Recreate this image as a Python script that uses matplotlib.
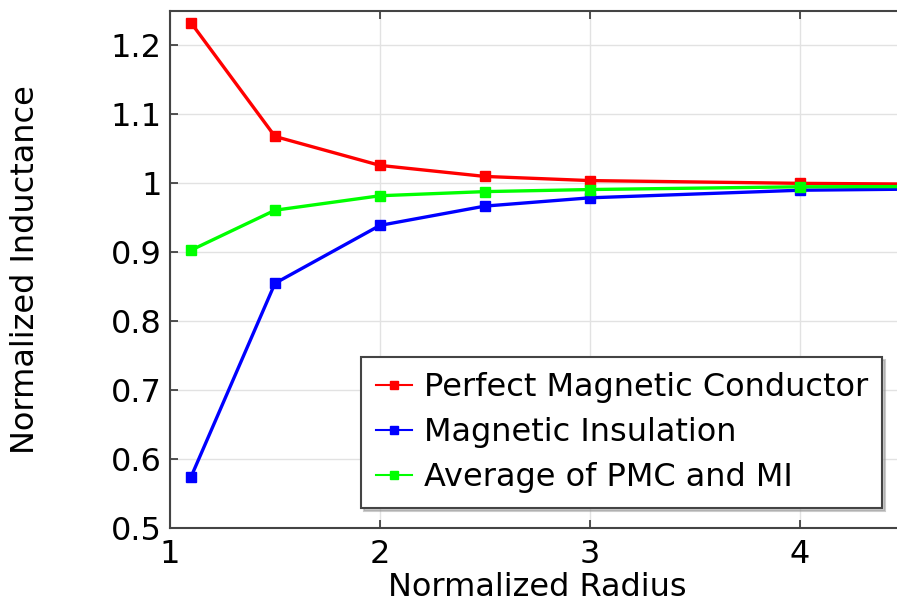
"""Normalized inductance versus normalized radius for the two boundary conditions."""

import matplotlib

matplotlib.use("Agg")
import matplotlib.pyplot as plt

radius = [1.1, 1.5, 2.0, 2.5, 3.0, 4.0, 5.0]
pmc = [1.233, 1.068, 1.026, 1.010, 1.004, 1.000, 0.998]
mi = [0.574, 0.855, 0.939, 0.967, 0.979, 0.990, 0.993]
average = [0.903, 0.961, 0.982, 0.988, 0.991, 0.995, 0.9955]

x_ticks = [1, 2, 3, 4]
y_ticks = [0.5, 0.6, 0.7, 0.8, 0.9, 1.0, 1.1, 1.2]
y_tick_labels = ["0.5", "0.6", "0.7", "0.8", "0.9", "1", "1.1", "1.2"]

FONT = 23


def main() -> None:
    fig = plt.figure(figsize=(8.97, 6.04), dpi=100)
    ax = fig.add_axes([0.1895, 0.1258, 0.8194, 0.856])

    style = dict(marker="s", markersize=7, linewidth=2.4)
    ax.plot(radius, pmc, color="#ff0000", label="Perfect Magnetic Conductor", **style)
    ax.plot(radius, mi, color="#0000ff", label="Magnetic Insulation", **style)
    ax.plot(radius, average, color="#00ff00", label="Average of PMC and MI", **style)

    ax.set_xlim(1, 4.5)
    ax.set_ylim(0.5, 1.25)
    ax.set_xticks(x_ticks)
    ax.set_yticks(y_ticks)
    ax.set_yticklabels(y_tick_labels)
    ax.grid(True, color="#e2e2e2", linewidth=1)
    ax.set_axisbelow(True)
    ax.tick_params(direction="in", top=True, right=True, length=6, width=1.2,
                   labelsize=FONT, colors="#333333", labelcolor="black")
    ax.tick_params(axis="x", pad=8)
    ax.tick_params(axis="y", pad=6)
    for spine in ax.spines.values():
        spine.set_color("#444444")
        spine.set_linewidth(1.5)

    ax.set_xlabel("Normalized Radius", fontsize=FONT, labelpad=1)
    ax.set_ylabel("Normalized Inductance", fontsize=FONT, labelpad=50)

    leg = ax.legend(loc="lower right", bbox_to_anchor=(0.969, 0.039), fontsize=FONT,
                    fancybox=False, shadow={"color": "0.6", "alpha": 0.5}, framealpha=1,
                    handlelength=1.15, markerscale=0.75, borderpad=0.45, labelspacing=0.45,
                    handletextpad=0.35, borderaxespad=0)
    leg.get_frame().set_edgecolor("#444444")
    leg.get_frame().set_linewidth(1.5)
    for line in leg.get_lines():
        line.set_linewidth(1.5)

    fig.savefig("out.png", dpi=100)
    plt.close(fig)


if __name__ == "__main__":
    main()
